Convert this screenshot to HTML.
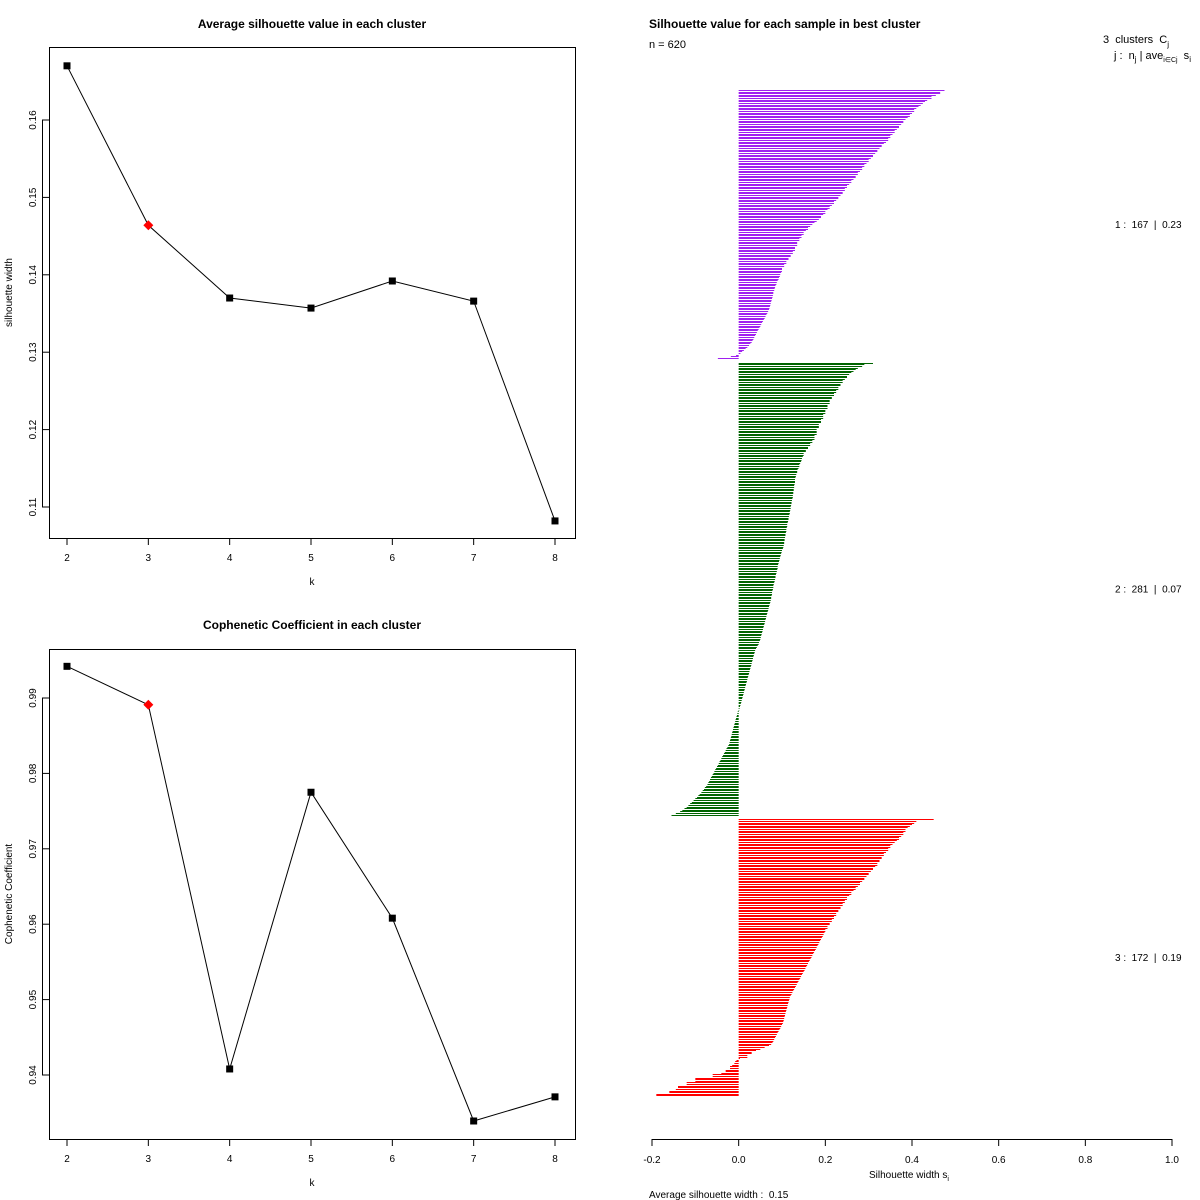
<!DOCTYPE html>
<html><head><meta charset="utf-8"><style>
html,body{margin:0;padding:0;background:#fff;}
svg{display:block;font-family:"Liberation Sans",Arial,sans-serif;}
text{white-space:pre;}
</style></head><body>
<svg id="s" width="1200" height="1200" viewBox="0 0 1200 1200" xmlns="http://www.w3.org/2000/svg"></svg>
<script>
// ---- data ----
const kValues = [2,3,4,5,6,7,8];
const silhouetteAvg = [0.1670,0.1464,0.1370,0.1357,0.1392,0.1366,0.1082];
const silTicks = [0.11,0.12,0.13,0.14,0.15,0.16];
const cophenetic = [0.9942,0.9891,0.9408,0.9775,0.9608,0.9339,0.9371];
const cophTicks = [0.94,0.95,0.96,0.97,0.98,0.99];
const bestIndex = 1;
const silXTicks = [-0.2,0,0.2,0.4,0.6,0.8,1.0];
const silXTickLabels = ["-0.2","0.0","0.2","0.4","0.6","0.8","1.0"];
const clusterLabels = ["1 :  167  |  0.23","2 :  281  |  0.07","3 :  172  |  0.19"];
const cluster1 = [0.475,0.465,0.465,0.455,0.445,0.445,0.435,0.43,0.425,0.42,0.415,0.41,0.405,0.405,0.40,0.395,0.395,0.39,0.385,0.38,0.38,0.375,0.37,0.37,0.365,0.36,0.36,0.355,0.35,0.35,0.345,0.345,0.34,0.335,0.33,0.33,0.325,0.32,0.32,0.315,
0.31,0.31,0.305,0.30,0.30,0.295,0.29,0.29,0.285,0.285,0.28,0.275,0.275,0.27,0.27,0.265,0.26,0.26,0.255,0.25,0.25,0.245,0.245,0.24,0.24,0.235,0.23,0.23,0.225,0.22,0.22,0.215,0.21,0.21,0.205,0.20,0.20,0.195,0.19,0.19,0.185,0.18,0.175,0.17,0.165,
0.16,0.16,0.155,0.15,0.15,0.145,0.145,0.14,0.14,0.135,0.135,0.135,0.13,0.13,0.13,0.125,0.125,0.12,0.12,0.115,0.115,0.11,0.11,0.105,0.105,
0.10,0.10,0.10,0.098,0.096,0.095,0.093,0.092,0.09,0.088,0.087,0.085,0.084,0.083,0.082,0.08,0.08,0.079,0.078,0.077,0.076,0.075,0.074,0.073,0.072,0.071,0.07,0.068,
0.066,0.064,0.062,0.06,0.058,0.056,0.054,0.052,0.05,0.048,0.046,0.044,0.042,0.04,0.038,0.036,0.034,0.032,0.03,0.027,0.024,0.02,0.016,0.012,0.008,
0.004,-0.006,-0.018,-0.048];
const cluster2 = [0.31,0.29,0.285,0.275,0.27,0.265,0.26,0.255,0.25,0.25,0.245,0.24,0.24,0.235,0.235,0.23,0.23,0.225,0.225,0.22,0.22,0.215,0.215,
0.21,0.21,0.21,0.205,0.205,0.205,0.20,0.20,0.20,0.195,0.195,0.195,0.19,0.19,0.19,0.185,0.185,0.185,0.18,0.18,0.18,0.18,0.175,0.175,0.175,0.17,0.17,0.165,0.165,0.16,0.16,
0.155,0.155,0.15,0.15,0.148,0.146,0.145,0.144,0.142,0.14,0.14,0.138,0.136,0.135,0.135,0.133,0.132,0.131,0.13,0.13,0.13,0.129,0.128,0.128,0.127,0.127,0.126,0.126,0.125,0.125,0.124,
0.123,0.122,0.122,0.121,0.12,0.12,0.119,0.118,0.118,0.117,0.116,0.115,0.115,0.114,0.113,0.112,0.112,0.111,0.11,0.11,0.109,0.108,0.108,0.107,0.106,0.106,0.105,0.105,0.104,0.103,0.102,
0.10,0.099,0.098,0.097,0.096,0.095,0.094,0.093,0.092,0.091,0.09,0.09,0.089,0.088,0.087,0.086,0.085,0.085,0.084,0.083,0.082,0.081,0.08,0.08,0.079,0.078,0.077,0.077,0.076,0.075,0.075,
0.074,0.073,0.072,0.071,0.07,0.069,0.068,0.067,0.066,0.065,0.064,0.063,0.062,0.061,0.06,0.059,0.058,0.057,0.056,0.055,0.054,0.053,0.052,0.051,0.05,0.049,0.047,0.046,0.044,0.042,0.04,
0.038,0.037,0.036,0.035,0.034,0.033,0.032,0.031,0.03,0.029,0.028,0.027,0.026,0.025,0.024,0.023,0.022,0.021,0.02,0.019,0.018,0.017,0.016,0.015,0.014,0.013,0.012,0.011,0.01,0.009,0.008,0.007,0.006,0.005,0.004,0.003,0.002,0.001,
-0.002,-0.003,-0.004,-0.005,-0.006,-0.007,-0.008,-0.009,-0.01,-0.011,-0.012,-0.013,-0.014,-0.015,-0.016,-0.017,-0.018,-0.019,-0.02,-0.021,-0.022,
-0.024,-0.026,-0.028,-0.03,-0.032,-0.034,-0.036,-0.038,-0.04,-0.042,-0.044,-0.046,-0.048,-0.05,-0.052,-0.054,-0.056,-0.058,-0.06,-0.062,-0.064,-0.066,-0.068,-0.07,-0.072,
-0.075,-0.078,-0.08,-0.083,-0.086,-0.09,-0.093,-0.096,-0.1,-0.104,-0.108,-0.112,-0.116,-0.12,-0.125,-0.13,-0.135,-0.145,-0.155];
const cluster3 = [0.45,0.41,0.405,0.40,0.395,0.39,0.385,0.385,0.38,0.38,0.375,0.37,0.37,0.365,0.36,0.355,0.35,
0.35,0.345,0.345,0.34,0.335,0.335,0.33,0.33,0.325,0.325,0.32,0.32,0.315,0.31,0.31,0.305,0.30,0.30,0.295,0.29,0.29,0.285,0.28,0.28,0.275,0.27,0.27,0.265,0.26,0.26,0.255,
0.25,0.25,0.245,0.245,0.24,0.24,0.235,0.235,0.23,0.23,0.225,0.225,0.22,0.22,0.215,0.215,0.21,0.21,0.205,0.205,0.20,0.20,0.198,0.196,0.194,0.192,0.19,0.188,0.186,0.184,0.182,
0.18,0.178,0.176,0.174,0.172,0.17,0.168,0.166,0.164,0.162,0.16,0.158,0.156,0.154,0.152,0.15,0.148,0.146,0.144,0.142,0.14,0.138,0.136,0.134,0.132,0.13,0.128,0.126,0.124,0.122,0.12,
0.118,0.117,0.116,0.115,0.114,0.113,0.112,0.111,0.11,0.109,0.108,0.107,0.106,0.105,0.104,0.103,0.102,0.1,0.098,0.096,0.094,0.092,0.09,0.088,0.086,0.084,0.082,0.08,0.078,0.075,0.07,0.06,0.05,0.04,0.03,0.03,0.02,0.02,
0.003,-0.005,-0.008,-0.01,-0.015,-0.02,-0.02,-0.03,-0.03,-0.04,-0.06,-0.06,-0.1,-0.1,-0.1,-0.12,-0.12,-0.14,-0.14,-0.145,-0.16,-0.16,-0.19,-0.19];
const clusterColors = ["#a020f0","#006400","#ff0000"];

const NS="http://www.w3.org/2000/svg";
const svg=document.getElementById('s');
function el(tag,attrs,parent,txt){const e=document.createElementNS(NS,tag);for(const k in attrs)e.setAttribute(k,attrs[k]);if(txt!==undefined)e.textContent=txt;(parent||svg).appendChild(e);return e;}

function linePlot(cfg){
  const g=el('g',{});
  
  
  const xS=k=>67+(k-2)*(555-67)/6;
  const yS=v=>cfg.y0px+(v-cfg.y0v)*(cfg.y1px-cfg.y0px)/(cfg.y1v-cfg.y0v);
  const t=el('text',{x:312,y:cfg.titleY,'text-anchor':'middle','font-size':12,'font-weight':'bold'},g,cfg.title);
  
  
  const fr=el('rect',{x:49.5,y:cfg.top+0.5,width:526,height:cfg.bottom-cfg.top,fill:'none',stroke:'#000'},g);
  
  
  kValues.forEach(k=>{
    el('line',{x1:xS(k),x2:xS(k),y1:cfg.bottom,y2:cfg.bottom+7,stroke:'#000'},g);
    const tl=el('text',{x:xS(k),y:cfg.bottom+23,'text-anchor':'middle','font-size':10},g,String(k));
    
    
  });
  el('line',{x1:xS(2),x2:xS(8),y1:cfg.bottom+0.5,y2:cfg.bottom+0.5,stroke:'#000'},g);
  cfg.ticks.forEach(v=>{
    const y=yS(v);
    el('line',{x1:42,x2:49.5,y1:y,y2:y,stroke:'#000'},g);
    const tl=el('text',{x:36,y:y,'text-anchor':'middle','font-size':10,transform:`rotate(-90 36 ${y})`},g,v.toFixed(2));
    
    
  });
  el('line',{x1:42.5,x2:42.5,y1:yS(cfg.ticks[0]),y2:yS(cfg.ticks[cfg.ticks.length-1]),stroke:'#000'},g);
  const xl=el('text',{x:312,y:cfg.bottom+47,'text-anchor':'middle','font-size':10},g,'k');
  
  
  const ym=(cfg.top+cfg.bottom)/2;
  const yl=el('text',{x:12,y:ym,'text-anchor':'middle','font-size':10,transform:`rotate(-90 12 ${ym})`},g,cfg.ylabel);
  
  
  const pts=kValues.map((k,i)=>xS(k)+','+yS(cfg.vals[i])).join(' ');
  const pl=el('polyline',{points:pts,fill:'none',stroke:'#000','stroke-width':1},g);
  
  
  kValues.forEach((k,i)=>{
    const x=xS(k),y=yS(cfg.vals[i]);
    let m;
    if(i===bestIndex){m=el('polygon',{points:`${x},${y-5} ${x+5},${y} ${x},${y+5} ${x-5},${y}`,fill:'#ff0000'},g);}
    else{m=el('rect',{x:x-3.5,y:y-3.5,width:7,height:7,fill:'#000'},g);}
    
    
  });
}
linePlot({name:'silhouette-line-chart',title:'Average silhouette value in each cluster',titleY:28,top:47,bottom:538,
  y0v:0.11,y0px:507,y1v:0.16,y1px:120,ticks:silTicks,vals:silhouetteAvg,ylabel:'silhouette width'});
linePlot({name:'cophenetic-line-chart',title:'Cophenetic Coefficient in each cluster',titleY:629,top:649,bottom:1139,
  y0v:0.94,y0px:1075,y1v:0.99,y1px:698,ticks:cophTicks,vals:cophenetic,ylabel:'Cophenetic Coefficient'});

// ---- silhouette bar plot ----
const sg=el('g',{});


const sx=v=>652+(v+0.2)*(1172-652)/1.2;
const clusters=[cluster1,cluster2,cluster3];
const total=clusters.reduce((a,c)=>a+c.length,0)+4;
const yTop=90,yBot=1097,step=(yBot-yTop)/total;
let idx=0;
clusters.forEach((c,ci)=>{
  const start=idx;
  c.forEach(v=>{
    const y=Math.round(yTop+idx*step);
    const x0=sx(0),x1=sx(v);
    const b=el('rect',{x:Math.min(x0,x1),y:y,width:Math.max(Math.abs(x1-x0),0.5),height:1,fill:clusterColors[ci]},sg);
    
    
    idx++;
  });
  const mid=yTop+(start+c.length/2)*step;
  const lb=el('text',{x:1115,y:mid+3,'font-size':10},sg,clusterLabels[ci]);
  
  
  idx+=2;
});
el('line',{x1:sx(-0.2),x2:sx(1.0),y1:1139.5,y2:1139.5,stroke:'#000'},sg);
silXTicks.forEach((v,i)=>{
  el('line',{x1:sx(v),x2:sx(v),y1:1139,y2:1146,stroke:'#000'},sg);
  const tl=el('text',{x:sx(v),y:1163,'text-anchor':'middle','font-size':10},sg,silXTickLabels[i]);
  
  
});
</script>
<svg style="position:absolute;left:0;top:0" width="1200" height="1200" xmlns="http://www.w3.org/2000/svg">
<g font-family="Liberation Sans, Arial, sans-serif">
<text x="649" y="28" font-size="12" font-weight="bold">Silhouette value for each sample in best cluster</text>
<text x="649" y="48" font-size="11">n = 620</text>
<text x="1103" y="43" font-size="11">3  clusters  C<tspan font-size="8" dy="4">j</tspan></text>
<text x="1114" y="59" font-size="11">j :  n<tspan font-size="8" dy="3">j</tspan><tspan dy="-3"> | ave</tspan><tspan font-size="7" dy="3">i∈Cj</tspan><tspan dy="-3">  s</tspan><tspan font-size="8" dy="3">i</tspan></text>
<text x="869" y="1178" font-size="10">Silhouette width s<tspan font-size="7" dy="3">i</tspan></text>
<text x="649" y="1198" font-size="10">Average silhouette width :  0.15</text>
</g>
</svg>
</body></html>
